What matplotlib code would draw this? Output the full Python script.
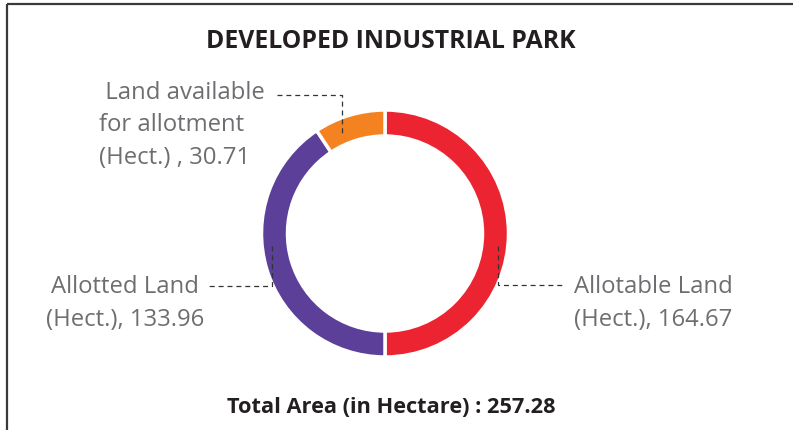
import matplotlib
matplotlib.use("Agg")
import matplotlib.pyplot as plt

# ---- data ----
categories = ["Allotable Land", "Allotted Land", "Land available for allotment"]
values = [164.67, 133.96, 30.71]
colors = ["#ec2330", "#5c3f98", "#f58220"]
title = "DEVELOPED INDUSTRIAL PARK"
total_label = "Total Area (in Hectare) : 257.28"
label_texts = [
    "Allotable Land\n(Hect.), 164.67",
    "Allotted Land\n(Hect.), 133.96",
    " Land available\nfor allotment\n(Hect.) , 30.71",
]

W, H = 793, 431
plt.rcParams["font.family"] = ["Open Sans", "DejaVu Sans"]
plt.rcParams["lines.scale_dashes"] = False

fig = plt.figure(figsize=(W / 100, H / 100), dpi=100)
ax = fig.add_axes([0, 0, 1, 1])

def Y(py):
    return H - py

cx, cy, R, ring = 385, 234.5, 123.5, 26
ax.pie(values, colors=colors, startangle=90, counterclock=False,
       radius=R, center=(cx, Y(cy)),
       wedgeprops=dict(width=ring, edgecolor="white", linewidth=2.5))
ax.set_xlim(0, W)
ax.set_ylim(0, H)
ax.set_aspect("equal")
ax.axis("off")

# frame
frame_c = "#3a3a3a"
ax.plot([7, W], [Y(5), Y(5)], color=frame_c, lw=1.6, solid_capstyle="butt")
ax.plot([7, 7], [Y(5), Y(H)], color=frame_c, lw=1.6, solid_capstyle="butt")

# titles
tc = "#231f20"
ax.text(391, Y(48), title, ha="center", va="baseline", fontsize=17.8,
        fontweight="bold", color=tc)
ax.text(391, Y(413), total_label, ha="center", va="baseline", fontsize=15.7,
        fontweight="bold", color=tc)

# labels
gc = "#6d6e71"
fs = 17.2
ls = 1.48
ax.text(653, Y(326), label_texts[0], ha="center", va="baseline", fontsize=fs,
        color=gc, linespacing=ls, multialignment="center")
ax.text(125, Y(326), label_texts[1], ha="center", va="baseline", fontsize=fs,
        color=gc, linespacing=ls, multialignment="center")
ax.text(99, Y(164), label_texts[2], ha="left", va="baseline", fontsize=fs,
        color=gc, linespacing=ls, multialignment="left")

# leader lines
lc = "#333333"
dash = dict(color=lc, lw=0.9, dashes=(3.6, 2.8))
ax.plot([498, 498, 563], [Y(247), Y(286), Y(286)], **dash)
ax.plot([272, 272, 207], [Y(247), Y(287), Y(287)], **dash)
ax.plot([277, 342, 342], [Y(96), Y(96), Y(135)], **dash)

fig.savefig("out.png", dpi=100)
